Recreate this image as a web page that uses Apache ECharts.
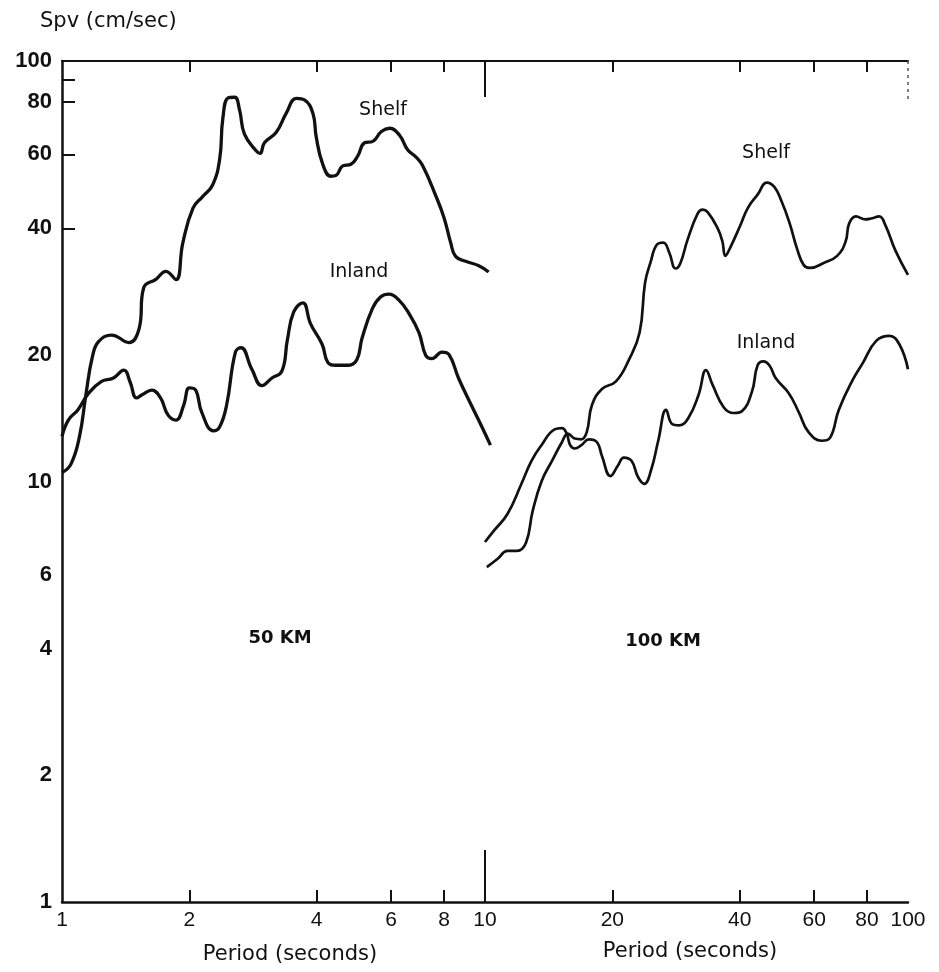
<!DOCTYPE html>
<html><head><meta charset="utf-8">
<script src="https://cdn.jsdelivr.net/npm/echarts@6/dist/echarts.min.js"></script>
<style>html,body{margin:0;padding:0;background:#fff}#c{width:939px;height:972px}</style>
</head><body><div id="c"></div>
<script>
// ---- data (period in seconds, Spv in cm/sec) ----
const shelf50Period = [1.0,1.05,1.10,1.14,1.18,1.22,1.31,1.44,1.52,1.56,1.67,1.76,1.86,1.93,2.04,2.15,2.27,2.36,2.40,2.47,2.56,2.63,2.70,2.88,2.94,3.01,3.21,3.39,3.58,3.75,3.92,3.99,4.13,4.32,4.44,4.61,4.82,5.00,5.19,5.43,5.69,5.95,6.28,6.57,6.87,7.12,7.65,8.00,8.30,8.52,9.00,9.67,10.2];
const shelf50Spv    = [10.5,11.0,12.8,16.2,19.8,21.5,22.3,21.4,23.0,28.9,30.3,31.6,30.2,36.9,44.7,47.6,50.7,58.6,73.0,81.7,82.0,76.3,67.0,61.1,60.3,63.9,67.7,75.2,81.5,80.7,75.0,66.0,57.0,53.2,53.4,56.3,56.8,59.4,63.9,64.4,68.0,69.2,66.6,61.4,59.1,56.4,47.8,42.4,36.9,34.3,33.4,32.6,31.5];

const inland50Period = [1.0,1.035,1.09,1.155,1.24,1.32,1.40,1.45,1.50,1.55,1.63,1.71,1.78,1.86,1.94,2.00,2.07,2.14,2.28,2.36,2.45,2.57,2.65,2.81,2.97,3.13,3.31,3.41,3.53,3.71,3.87,4.12,4.25,4.43,4.76,4.98,5.12,5.42,5.67,5.93,6.26,6.61,6.98,7.25,7.49,7.91,8.23,8.66,9.31,9.83,10.3];
const inland50Spv    = [12.8,14.0,14.8,16.2,17.3,17.6,18.4,17.2,15.8,16.1,16.5,15.8,14.4,14.0,15.2,16.7,16.5,14.6,13.2,13.5,15.2,20.3,20.8,18.5,16.9,17.6,18.3,21.7,25.3,26.6,23.7,21.2,19.2,18.9,18.9,19.5,21.9,25.8,27.5,27.9,27.0,25.1,22.6,19.9,19.6,20.3,20.0,17.6,15.1,13.5,12.2];

const shelf100Period = [10.1,10.7,11.3,11.9,12.5,12.96,13.6,14.4,15.2,15.7,16.3,16.9,17.4,17.9,18.9,20.4,21.9,23.2,23.9,24.6,25.5,26.4,27.3,28.2,28.95,30.1,31.8,32.7,33.6,35.4,36.4,37.0,38.0,40.2,41.8,44.1,46.4,48.3,50.1,52.4,54.7,56.7,58.7,63.2,68.0,71.2,72.6,75.3,79.4,81.7,85.5,88.5,93.4,100];
const shelf100Spv    = [6.26,6.54,6.84,6.84,7.15,8.5,10.0,11.2,12.4,13.0,12.65,12.6,13.1,15.2,16.6,17.3,19.5,22.6,29.7,33.1,36.6,37.0,34.9,32.1,33.0,37.5,43.3,44.3,43.7,40.2,37.3,34.4,36.0,40.8,44.7,48.1,51.4,50.2,46.7,41.4,35.7,32.7,32.2,33.1,34.4,37.2,41.1,42.7,42.0,42.2,42.7,40.6,35.4,31.0];

const inland100Period = [10.0,10.5,11.3,12.18,12.88,13.6,14.6,15.2,15.6,15.9,16.3,16.9,17.6,18.4,18.9,19.8,20.6,21.3,22.2,23.0,23.8,24.7,25.7,26.8,27.7,28.8,30.3,32.0,33.3,34.5,36.7,38.7,40.5,42.8,44.1,45.5,47.0,48.7,52.3,55.2,58.2,62.5,65.4,68.6,73.9,78.1,84.1,90.4,95.4,100];
const inland100Spv    = [7.18,7.64,8.37,9.85,11.2,12.2,13.3,13.4,13.0,12.2,11.98,12.2,12.6,12.4,11.5,10.3,10.9,11.4,11.2,10.25,9.87,10.65,12.55,14.8,13.7,13.6,14.2,16.1,18.4,17.0,15.0,14.55,14.7,16.4,18.9,19.3,18.9,17.6,16.2,14.6,13.1,12.5,12.7,14.8,17.4,19.1,21.6,22.2,21.2,18.5];

// ---- tick values ----
const xTickLabels   = [1,2,4,6,8,10,20,40,60,80,100];
const xShortTicks   = [2,4,6,8,20,40,60,80];
const xLongTicks    = [10];
const yTickLabels   = [1,2,4,6,10,20,40,60,80,100];
const yTicks        = [40,60,80,90];

const pair = (xs, ys) => xs.map((x, i) => [x, ys[i]]);
const black = '#111';
const font = 'Liberation Sans';

function xAx(opts) {
  return Object.assign({
    type: 'log', logBase: 10, min: 1, max: 100, gridIndex: 0,
    splitLine: {show: false}, axisLine: {show: false},
    axisTick: {show: false}, axisLabel: {show: false}
  }, opts);
}

const lbl = (text, x, y, size, weight) => ({
  type: 'text', x: x, y: y,
  style: {text: text, font: (weight || 'normal') + ' ' + size + 'px "DejaVu Sans"', fill: black, align: 'center', verticalAlign: 'middle'}
});

const option = {
  animation: false,
  backgroundColor: '#fff',
  grid: {left: 62, right: 31, top: 61, bottom: 70, containLabel: false},
  xAxis: [
    xAx({position: 'bottom',
      axisLine: {show: true, onZero: false, lineStyle: {color: black, width: 2.5}},
      axisTick: {show: true, inside: true, length: 12, customValues: xShortTicks, lineStyle: {color: black, width: 2}},
      axisLabel: {show: true, customValues: xTickLabels, margin: 8, color: black, fontFamily: font, fontSize: 21,
        formatter: v => String(Math.round(v))}
    }),
    xAx({position: 'bottom',
      axisTick: {show: true, inside: true, length: 52, customValues: xLongTicks, lineStyle: {color: black, width: 2}}
    }),
    xAx({position: 'top',
      axisLine: {show: true, onZero: false, lineStyle: {color: black, width: 2}},
      axisTick: {show: true, inside: true, length: 11, customValues: xShortTicks, lineStyle: {color: black, width: 2}}
    }),
    xAx({position: 'top',
      axisTick: {show: true, inside: true, length: 36, customValues: xLongTicks, lineStyle: {color: black, width: 2}}
    }),
    xAx({position: 'top',
      axisTick: {show: true, inside: true, length: 40, customValues: [100], lineStyle: {color: '#555', width: 1.5, type: [3, 4]}}
    })
  ],
  yAxis: [{
    type: 'log', logBase: 10, min: 1, max: 100, position: 'left',
    splitLine: {show: false},
    axisLine: {show: true, onZero: false, lineStyle: {color: black, width: 2.5}},
    axisTick: {show: true, inside: true, length: 13, customValues: yTicks, lineStyle: {color: black, width: 2}},
    axisLabel: {show: true, customValues: yTickLabels, margin: 10, color: black, fontFamily: font, fontWeight: 'bold', fontSize: 22,
      formatter: v => String(Math.round(v))}
  }],
  series: [
    {name: 'Shelf 50 km', type: 'line', smooth: 0.45, showSymbol: false, data: pair(shelf50Period, shelf50Spv),
      lineStyle: {color: black, width: 3.3}},
    {name: 'Inland 50 km', type: 'line', smooth: 0.45, showSymbol: false, data: pair(inland50Period, inland50Spv),
      lineStyle: {color: black, width: 3.3}},
    {name: 'Shelf 100 km', type: 'line', smooth: 0.45, showSymbol: false, data: pair(shelf100Period, shelf100Spv),
      lineStyle: {color: black, width: 2.7}},
    {name: 'Inland 100 km', type: 'line', smooth: 0.45, showSymbol: false, data: pair(inland100Period, inland100Spv),
      lineStyle: {color: black, width: 2.7}}
  ],
  graphic: [
    {type: 'text', x: 40, y: 22, style: {text: 'Spv (cm/sec)', font: '21px "DejaVu Sans"', fill: black, align: 'left', verticalAlign: 'middle'}},
    lbl('Period (seconds)', 290, 955, 21),
    lbl('Period (seconds)', 690, 952, 21),
    lbl('Shelf', 383, 110, 19),
    lbl('Inland', 359, 272, 19),
    lbl('50 KM', 280, 638, 18, 'bold'),
    lbl('Shelf', 766, 153, 19),
    lbl('Inland', 766, 343, 19),
    lbl('100 KM', 663, 641, 18, 'bold')
  ]
};

const chart = echarts.init(document.getElementById('c'), null, {renderer: 'canvas'});
chart.setOption(option);
</script>
</body></html>
